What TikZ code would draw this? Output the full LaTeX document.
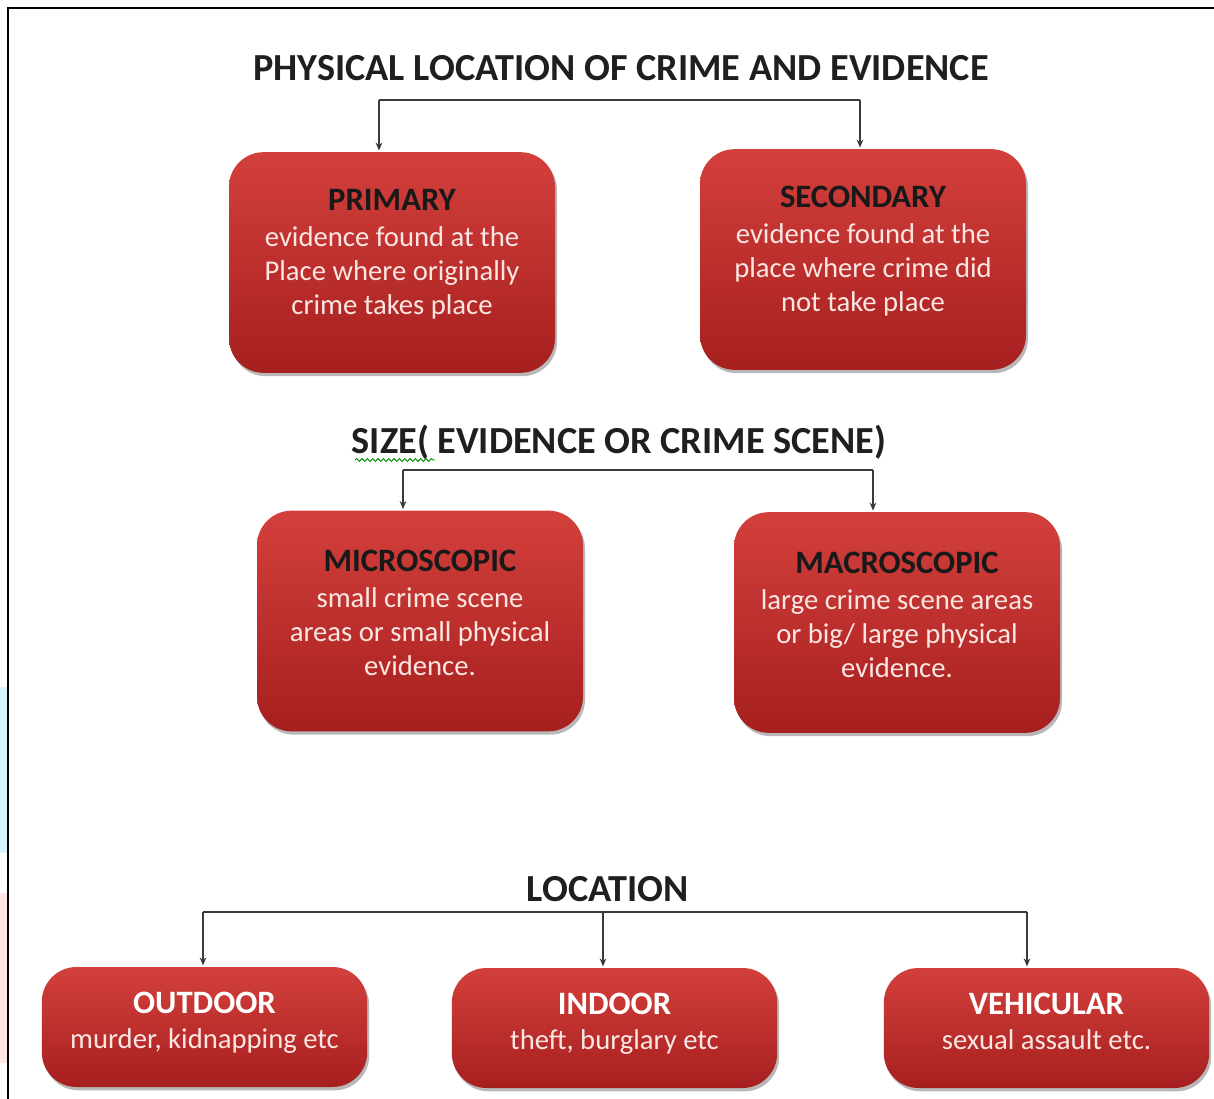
\documentclass[tikz,border=0pt]{standalone}
\usepackage{fontspec}
\setmainfont{Carlito}
\usetikzlibrary{arrows.meta,shadows,decorations.pathmorphing}
\definecolor{redtop}{HTML}{D3403C}
\definecolor{redbot}{HTML}{A61F1F}
\definecolor{bodytxt}{HTML}{FBE6E2}
\definecolor{linegray}{HTML}{3A3A3A}
\tikzset{
  redbox/.style={rectangle, rounded corners=26pt, top color=redtop, bottom color=redbot,
    draw=none, inner sep=0pt,
    drop shadow={shadow xshift=1.5pt, shadow yshift=-2.5pt, fill=black, opacity=0.28}},
  bigbox/.style={redbox, minimum width=244.5pt, minimum height=165.5pt},
  smallbox/.style={redbox, minimum width=244pt, minimum height=90pt},
  boxtext/.style={align=center, inner sep=0pt, font=\fontsize{21.5}{25.5}\selectfont, text=bodytxt},
  heading/.style={font=\fontsize{28.7}{32}\selectfont\bfseries, text=black!88, inner sep=0pt},
  conn/.style={draw=linegray, line width=1.4pt},
  arr/.style={conn, -{Stealth[length=6pt,width=5pt]}},
}
\newcommand{\bt}[1]{{\fontsize{24.5}{28}\selectfont\bfseries\color{black!90}#1}\\[1.5pt]}
\newcommand{\wt}[1]{{\fontsize{24.5}{28}\selectfont\bfseries\color{white}#1}\\[1pt]}
\begin{document}
\begin{tikzpicture}[x=0.75pt,y=-0.75pt]
\useasboundingbox (0,0) rectangle (1214,1099);
% edge artifacts
\fill[cyan!15] (0,687) rectangle (7,853);
\fill[red!10] (0,893) rectangle (7,1063);
% frame
\draw[line width=1.8pt] (8,1099) -- (8,8) -- (1214,8);

% headings
\node[heading] (h1) at (621,68) {PHYSICAL LOCATION OF CRIME AND EVIDENCE};
\node[heading] (h2) at (619,442) {SIZE( EVIDENCE OR CRIME SCENE)};
\node[heading] (h3) at (608,889) {LOCATION};
\coordinate (sizeL) at (355,460);
\coordinate (sizeR) at (435,460);
\draw[green!55!black, line width=0.7pt, decorate, decoration={snake, amplitude=1.1pt, segment length=4pt}] (sizeL) -- (sizeR);

% boxes
\node[bigbox] (primary) at (392,262.5) {};
\node[bigbox] (secondary) at (863,259.5) {};
\node[bigbox] (micro) at (420,621) {};
\node[bigbox] (macro) at (897,622.5) {};
\node[smallbox] (outdoor) at (204.5,1027) {};
\node[smallbox] (indoor) at (614.5,1028) {};
\node[smallbox] (vehicular) at (1046.5,1028) {};

% box texts
\node[boxtext] (primaryT) at ([yshift=6pt]primary.center) {\bt{PRIMARY}evidence found at the\\Place where originally\\crime takes place};
\node[boxtext] (secondaryT) at ([yshift=6pt]secondary.center) {\bt{SECONDARY}evidence found at the\\place where crime did\\not take place};
\node[boxtext] (microT) at ([yshift=6pt]micro.center) {\bt{MICROSCOPIC}small crime scene\\areas or small physical\\evidence.};
\node[boxtext] (macroT) at ([yshift=6pt]macro.center) {\bt{MACROSCOPIC}large crime scene areas\\or big/ large physical\\evidence.};
\node[boxtext] (outdoorT) at ([yshift=3pt]outdoor.center) {\wt{OUTDOOR}murder, kidnapping etc};
\node[boxtext] (indoorT) at ([yshift=3pt]indoor.center) {\wt{INDOOR}theft, burglary etc};
\node[boxtext] (vehicularT) at ([yshift=3pt]vehicular.center) {\wt{VEHICULAR}sexual assault etc.\vphantom{g}};

% connectors
\coordinate (a1) at (379,100);
\coordinate (a2) at (860,100);
\draw[conn] (a1) -- (a2);
\draw[arr] (a1) -- ([yshift=1pt]a1 |- primary.north);
\draw[arr] (a2) -- ([yshift=1pt]a2 |- secondary.north);

\coordinate (b1) at (403,470);
\coordinate (b2) at (873,470);
\draw[conn] (b1) -- (b2);
\draw[arr] (b1) -- ([yshift=1pt]b1 |- micro.north);
\draw[arr] (b2) -- ([yshift=1pt]b2 |- macro.north);

\coordinate (c1) at (203,912);
\coordinate (c2) at (603,912);
\coordinate (c3) at (1027,912);
\draw[conn] (c1) -- (c3);
\draw[arr] (c1) -- ([yshift=1pt]c1 |- outdoor.north);
\draw[arr] (c2) -- ([yshift=1pt]c2 |- indoor.north);
\draw[arr] (c3) -- ([yshift=1pt]c3 |- vehicular.north);
\end{tikzpicture}
\end{document}
